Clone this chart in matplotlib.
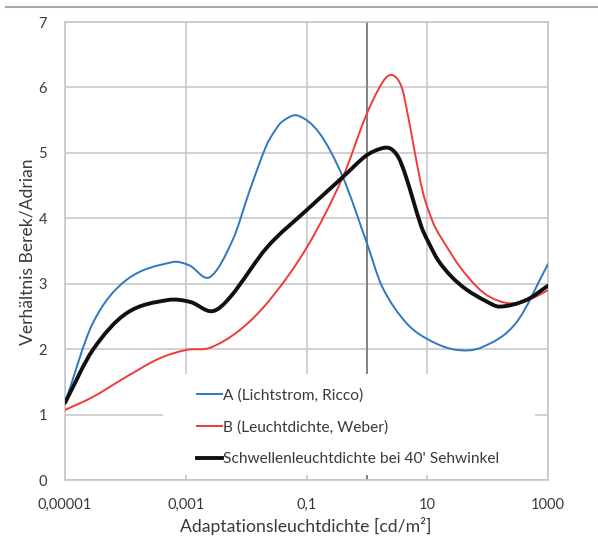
import numpy as np
import matplotlib
matplotlib.use("Agg")
import matplotlib.pyplot as plt
from matplotlib.path import Path
from matplotlib.patches import PathPatch, Rectangle
from matplotlib.lines import Line2D

plt.rcParams['font.family'] = ['Lato', 'DejaVu Sans']

# ---------------- data ----------------
x_ticks = [1e-5, 1e-3, 1e-1, 10, 1000]
x_tick_labels = ["0,00001", "0,001", "0,1", "10", "1000"]
y_ticks = [0, 1, 2, 3, 4, 5, 6, 7]

series_labels = ["A (Lichtstrom, Ricco)",
                 "B (Leuchtdichte, Weber)",
                 "Schwellenleuchtdichte bei 40' Sehwinkel"]

blue_x = [1e-5, 2.9e-5, 1.05e-4, 6.0e-4, 1.15e-3, 2.5e-3, 6.0e-3, 0.0115,
          0.0214, 0.0295, 0.0398, 0.0713, 0.164, 0.40, 1.0, 1.8, 4.5, 10.7,
          30, 81, 295, 1000]
blue_y = [1.18, 2.40, 3.06, 3.33, 3.28, 3.10, 3.67, 4.43,
          5.10, 5.33, 5.48, 5.57, 5.30, 4.63, 3.62, 2.95, 2.40, 2.14,
          1.99, 2.03, 2.40, 3.30]

red_x = [1e-5, 2.9e-5, 1.05e-4, 3.7e-4, 1.05e-3, 2.5e-3, 7.8e-3, 0.0245,
         0.102, 0.40, 0.95, 1.82, 2.61, 3.75, 4.82, 5.83, 7.06, 8.55, 10.4,
         13.4, 20.9, 34.6, 65.3, 108, 229, 490, 1000]
red_y = [1.07, 1.27, 1.58, 1.86, 1.99, 2.02, 2.29, 2.75,
         3.56, 4.63, 5.55, 6.08, 6.19, 6.01, 5.56, 5.15, 4.74, 4.38, 4.13,
         3.87, 3.57, 3.26, 2.96, 2.80, 2.70, 2.76, 2.90]

black_x = [1e-5, 2.9e-5, 1.05e-4, 5.0e-4, 1.2e-3, 2.75e-3, 5.5e-3, 0.0224,
           0.102, 0.40, 0.95, 1.64, 2.4, 3.29, 4.25, 5.83, 8.0, 10.4, 15.1,
           25.1, 44.7, 95.5, 158, 436, 1000]
black_y = [1.18, 1.99, 2.55, 2.75, 2.72, 2.58, 2.80, 3.56,
           4.13, 4.63, 4.95, 5.06, 5.07, 4.94, 4.69, 4.28, 3.87, 3.64, 3.36,
           3.11, 2.91, 2.73, 2.65, 2.75, 2.97]

colors = ["#2E78C2", "#F03A3A", "#101010"]
widths = [1.4, 1.4, 2.8]


def smooth_path(xs, ys):
    """Smoothed line (cardinal spline in log-x) as a Bezier path."""
    lx = np.log10(np.asarray(xs, float))
    yy = np.asarray(ys, float)
    n = len(lx)
    m = np.zeros(n)
    for i in range(n):
        if i == 0:
            m[i] = (yy[1] - yy[0]) / (lx[1] - lx[0])
        elif i == n - 1:
            m[i] = (yy[-1] - yy[-2]) / (lx[-1] - lx[-2])
        else:
            m[i] = (yy[i + 1] - yy[i - 1]) / (lx[i + 1] - lx[i - 1])
    verts = [(lx[0], yy[0])]
    codes = [Path.MOVETO]
    for i in range(n - 1):
        d = lx[i + 1] - lx[i]
        verts += [(lx[i] + d / 3, yy[i] + m[i] * d / 3),
                  (lx[i + 1] - d / 3, yy[i + 1] - m[i + 1] * d / 3),
                  (lx[i + 1], yy[i + 1])]
        codes += [Path.CURVE4] * 3
    verts = np.array(verts)
    verts[:, 0] = 10 ** verts[:, 0]
    return Path(verts, codes)


fig = plt.figure(figsize=(5.98, 5.39), dpi=100)
ax = fig.add_axes([65 / 598, 59 / 539, 483 / 598, 458 / 539])
ax.set_xscale('log')
ax.set_xlim(1e-5, 1000)
ax.set_ylim(0, 7)

ax.set_xticks(x_ticks)
ax.set_xticklabels(x_tick_labels)
ax.minorticks_off()
ax.set_yticks(y_ticks)
ax.tick_params(axis='both', length=0, labelsize=10.5, labelcolor='#3a3a3a')
ax.tick_params(axis='x', pad=13)
ax.tick_params(axis='y', pad=13)

ax.set_axisbelow(True)
ax.grid(True, color='#c4c4c4', lw=1.1)
for s in ax.spines.values():
    s.set_color('#c4c4c4')
    s.set_linewidth(1.1)

ax.axvline(1, color='#808080', lw=1.4, zorder=1.2)

# white legend area
ax.add_patch(Rectangle(((163 - 65) / 483, (480 - 475) / 458),
                       (535 - 163) / 483, (475 - 374) / 458,
                       transform=ax.transAxes, facecolor='white',
                       edgecolor='none', zorder=2.5))

for xs, ys, c, w in [(blue_x, blue_y, colors[0], widths[0]),
                     (red_x, red_y, colors[1], widths[1]),
                     (black_x, black_y, colors[2], widths[2])]:
    patch = PathPatch(smooth_path(xs, ys), facecolor='none', edgecolor=c,
                      lw=w, zorder=3, capstyle='round', joinstyle='round')
    ax.add_patch(patch)

handles = [Line2D([], [], color=c, lw=w) for c, w in zip(colors, widths)]
leg = ax.legend(handles, series_labels, loc='upper left',
                bbox_to_anchor=((197 - 65) / 483, (480 - 388) / 458),
                frameon=False, fontsize=11.2, handlelength=1.6,
                handletextpad=0.05, labelspacing=1.15, borderpad=0,
                borderaxespad=0)
for t in leg.get_texts():
    t.set_color('#3a3a3a')
leg.set_zorder(4)

fig.text(306 / 598, 1 - 526 / 539, "Adaptationsleuchtdichte [cd/m²]",
         ha='center', va='center', fontsize=12.7, color='#3a3a3a')
fig.text(28 / 598, 1 - 252 / 539, "Verhältnis Berek/Adrian",
         ha='center', va='center', rotation=90, fontsize=12.6, color='#3a3a3a')

fig.add_artist(Line2D([6 / 598, 1.0], [1 - 7 / 539, 1 - 7 / 539],
                      transform=fig.transFigure, color='#a8a8a8', lw=1.5))

fig.savefig("out.png", dpi=100, facecolor='white')
